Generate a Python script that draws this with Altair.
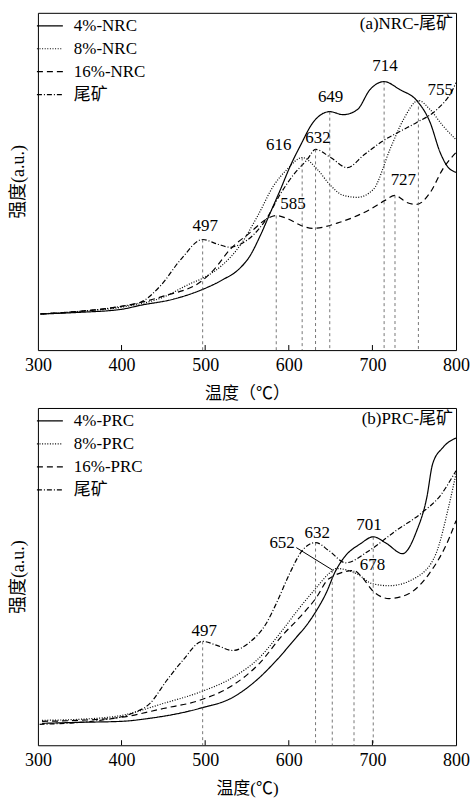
import altair as alt
import pandas as pd

FONT = "Liberation Serif, Noto Sans CJK SC"
DASHES = [[1, 0], [1, 1.6], [6, 4], [5, 2, 1, 2]]
TICKS = [300, 400, 500, 600, 700, 800]
INNER_TICKS = [400, 500, 600, 700]

# ---------- panel (a) ----------
a_series = ["4%-NRC", "8%-NRC", "16%-NRC", "尾矿"]
a4_t = [303, 350, 400, 423, 462, 497, 522, 539, 554, 566, 578, 590, 602, 614, 629, 649, 665, 682, 697, 714, 733, 753, 769, 781, 789, 800]
a4_v = [10.7, 11.2, 12.1, 13.3, 15.1, 18.0, 21.0, 23.7, 28.1, 34.0, 40.8, 47.6, 54.7, 60.7, 67.5, 70.7, 69.8, 71.3, 77.2, 79.6, 77.2, 74.0, 67.5, 58.6, 54.7, 52.7]
a8_t = [303, 350, 400, 450, 483, 497, 520, 542, 563, 582, 598, 616, 634, 650, 665, 682, 701, 721, 737, 755, 769, 784, 800]
a8_v = [10.7, 11.5, 12.7, 15.7, 19.8, 21.3, 25.1, 31.1, 39.9, 48.8, 53.6, 57.1, 53.6, 48.8, 45.9, 45.3, 47.6, 59.5, 68.3, 74.0, 71.3, 66.6, 62.4]
a16_t = [303, 350, 400, 450, 497, 510, 530, 554, 573, 585, 600, 614, 629, 661, 697, 715, 727, 741, 753, 769, 784, 800]
a16_v = [10.7, 11.5, 13.0, 16.0, 20.7, 23.7, 29.9, 34.9, 38.8, 39.9, 38.8, 37.0, 36.1, 37.9, 41.7, 44.4, 45.9, 43.8, 43.2, 46.7, 53.6, 58.6]
aT_t = [303, 350, 400, 423, 447, 471, 497, 515, 530, 542, 557, 573, 589, 605, 622, 632, 650, 670, 690, 713, 735, 753, 777, 796, 800]
aT_v = [10.7, 11.5, 13.0, 14.2, 19.2, 26.9, 32.8, 31.4, 30.5, 31.4, 34.0, 38.8, 45.9, 51.8, 56.5, 59.5, 57.1, 54.1, 57.9, 62.1, 65.1, 67.5, 71.3, 77.2, 79.3]

a_mark_t = [497, 585, 616, 632, 649, 714, 727, 755]
a_mark_v = [32.8, 39.9, 57.1, 59.5, 70.7, 79.6, 45.9, 74.0]
a_lab_t = [500, 605, 588, 635, 650, 715, 737, 781]
a_lab_v = [36.7, 43.2, 60.7, 63.0, 75.1, 84.3, 50.3, 77.2]
a_lab_txt = ["497", "585", "616", "632", "649", "714", "727", "755"]

# ---------- panel (b) ----------
b_series = ["4%-PRC", "8%-PRC", "16%-PRC", "尾矿"]
b4_t = [305, 350, 400, 434, 493, 533, 561, 585, 609, 621, 633, 645, 655, 665, 686, 701, 717, 736, 753, 765, 772, 784, 800]
b4_v = [6.5, 6.8, 7.1, 8.0, 10.9, 14.2, 19.2, 25.1, 32.0, 35.5, 39.9, 45.3, 51.2, 55.3, 59.8, 61.8, 59.8, 56.8, 63.6, 73.4, 83.4, 88.2, 91.1]
b8_t = [305, 350, 401, 450, 493, 533, 565, 592, 613, 633, 648, 657, 681, 700, 720, 752, 776, 792, 800]
b8_v = [7.4, 7.7, 8.9, 12.4, 15.7, 20.1, 26.0, 34.0, 40.8, 46.7, 50.9, 52.4, 50.9, 47.9, 47.3, 49.7, 56.8, 71.6, 80.5]
b16_t = [305, 350, 400, 450, 493, 533, 565, 592, 613, 633, 648, 678, 688, 700, 720, 744, 768, 792, 800]
b16_v = [7.1, 7.4, 8.3, 10.9, 13.3, 17.8, 24.3, 32.5, 37.9, 43.8, 49.4, 51.8, 49.7, 45.9, 43.5, 45.0, 50.9, 61.5, 66.6]
bT_t = [302, 374, 413, 434, 454, 473, 497, 514, 533, 553, 573, 585, 601, 616, 632, 648, 668, 696, 728, 759, 783, 795, 800]
bT_v = [6.2, 7.4, 9.5, 12.4, 19.2, 25.1, 30.8, 29.6, 28.1, 30.5, 36.1, 42.0, 50.9, 57.7, 60.1, 57.7, 54.1, 57.7, 63.6, 68.9, 74.6, 79.3, 81.4]

b_mark_t = [497, 632, 652, 678, 701]
b_mark_v = [30.8, 60.1, 52.0, 51.8, 61.8]
b_lab_t = [499, 592, 634, 696, 700]
b_lab_v = [34.0, 60.1, 63.0, 65.4, 53.3]
b_lab_txt = ["497", "652", "632", "701", "678"]
b_leader = {"T": [609], "v": [58.6], "T2": [652], "v2": [52.0]}


def panel(names, ts, vs, mark_t, mark_v, lab_t, lab_v, lab_txt, tag, xtitle, leader=None):
    rows = []
    for name, tt, vv in zip(names, ts, vs):
        for t, v in zip(tt, vv):
            rows.append({"series": name, "T": t, "v": v})
    df = pd.DataFrame(rows)

    X = alt.X("T:Q", scale=alt.Scale(domain=[300, 800], nice=False, zero=False),
              axis=alt.Axis(values=TICKS, ticks=False, domain=False, grid=False,
                            labelFont=FONT, labelFontSize=18, labelColor="black", labelPadding=6,
                            labelFlush=False,
                            title=xtitle, titleFont=FONT, titleFontSize=17, titleFontWeight="normal",
                            titleColor="black", titlePadding=11))
    Y = alt.Y("v:Q", scale=alt.Scale(domain=[0, 100], nice=False, zero=False),
              axis=alt.Axis(labels=False, ticks=False, domain=False, grid=False,
                            title="强度(a.u.)", titleFont=FONT, titleFontSize=18,
                            titleFontWeight="normal", titleColor="black", titlePadding=10))

    lines = alt.Chart(df).mark_line(interpolate="monotone", color="black", strokeWidth=1.2).encode(
        x=X, y=Y,
        strokeDash=alt.StrokeDash("series:N", sort=names,
                                  scale=alt.Scale(domain=names, range=DASHES),
                                  legend=alt.Legend(orient="none", legendX=-2, legendY=-1, title=None,
                                                    symbolType="stroke", symbolSize=676,
                                                    symbolStrokeColor="black", symbolStrokeWidth=1.2,
                                                    labelFont=FONT, labelFontSize=17, labelColor="black",
                                                    labelOffset=10, rowPadding=1, padding=0)),
        detail="series:N")

    mk = pd.DataFrame({"T": mark_t, "v": mark_v, "base": [0] * len(mark_t)})
    vlines = alt.Chart(mk).mark_rule(color="#555555", strokeWidth=0.8, strokeDash=[3, 3]).encode(
        x=X, y=Y, y2="base:Q")

    tk = pd.DataFrame({"T": INNER_TICKS, "v": [0] * 4, "top": [1.5] * 4})
    ticks = alt.Chart(tk).mark_rule(color="black", strokeWidth=1).encode(x=X, y=Y, y2="top:Q")

    lb = pd.DataFrame({"T": lab_t, "v": lab_v, "txt": lab_txt})
    labels = alt.Chart(lb).mark_text(font=FONT, fontSize=17, color="black").encode(
        x=X, y=Y, text="txt:N")

    tagc = alt.Chart(pd.DataFrame({"txt": [tag]})).mark_text(
        font=FONT, fontSize=17, color="black", align="right", baseline="top", dx=-3, dy=3).encode(
        x=alt.datum(800), y=alt.datum(100), text="txt:N")

    layers = [lines, vlines, ticks, labels, tagc]
    if leader is not None:
        ld = pd.DataFrame(leader)
        layers.append(alt.Chart(ld).mark_rule(color="black", strokeWidth=1).encode(
            x=X, y=Y, x2="T2:Q", y2="v2:Q"))
    return alt.layer(*layers).properties(width=419, height=338)


top = panel(a_series, [a4_t, a8_t, a16_t, aT_t], [a4_v, a8_v, a16_v, aT_v],
            a_mark_t, a_mark_v, a_lab_t, a_lab_v, a_lab_txt, "(a)NRC-尾矿", "温度（℃）")
bottom = panel(b_series, [b4_t, b8_t, b16_t, bT_t], [b4_v, b8_v, b16_v, bT_v],
               b_mark_t, b_mark_v, b_lab_t, b_lab_v, b_lab_txt, "(b)PRC-尾矿", "温度(℃)",
               leader=b_leader)

chart = alt.vconcat(top, bottom, spacing=4).resolve_scale(strokeDash="independent").properties(
    padding={"left": 9, "top": 10, "right": 0, "bottom": 0}
).configure_view(stroke="black", strokeWidth=1)

chart.save("out.html", embed_options={"renderer": "svg", "actions": False})
